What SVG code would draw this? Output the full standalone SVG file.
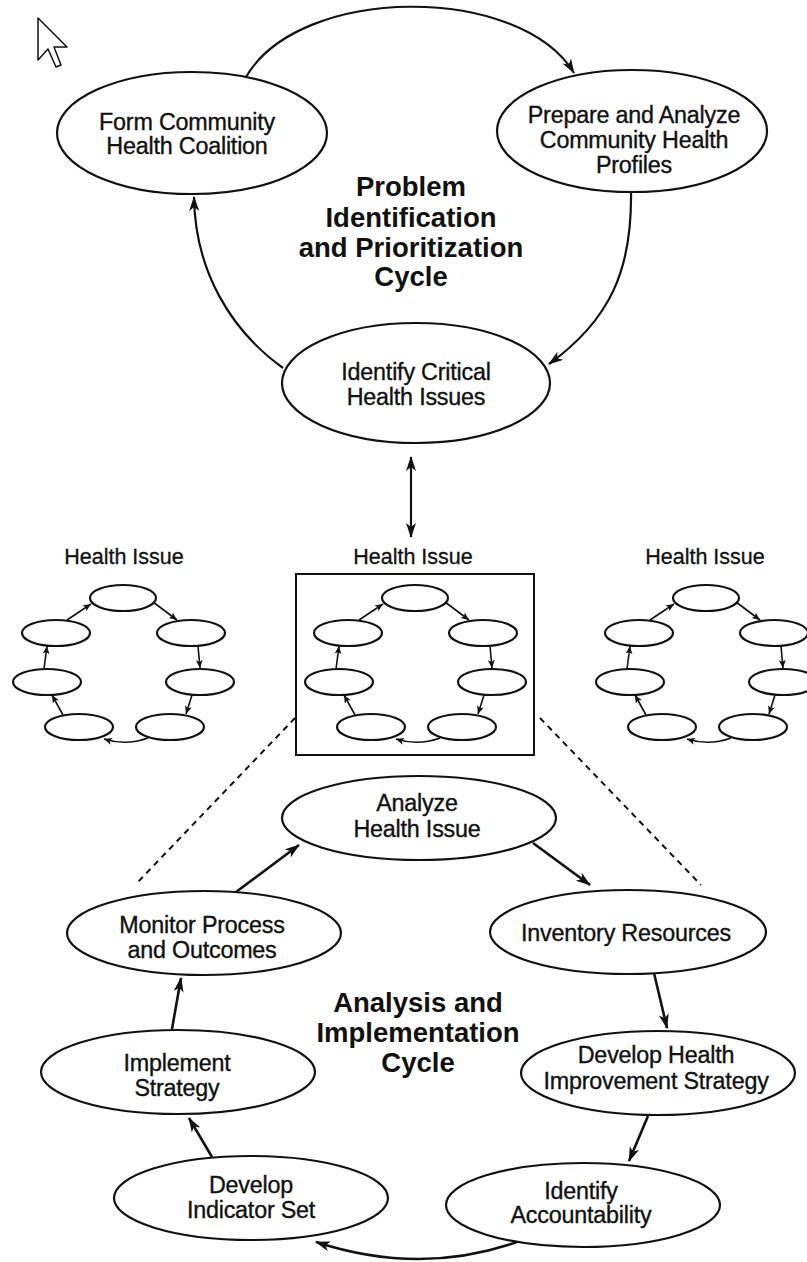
<svg xmlns="http://www.w3.org/2000/svg" width="807" height="1262" viewBox="0 0 807 1262">
<style>
.n{fill:#fff;stroke:#111;stroke-width:2.2}
.m{fill:#fff;stroke:#111;stroke-width:2.2}
.t{font-family:"Liberation Sans",Arial,sans-serif;font-size:23.3px;fill:#111;stroke:#111;stroke-width:0.35;text-anchor:middle;letter-spacing:-0.2px}
.h{font-family:"Liberation Sans",Arial,sans-serif;font-size:27.5px;font-weight:bold;fill:#111;text-anchor:middle}
.hi{font-family:"Liberation Sans",Arial,sans-serif;font-size:21.5px;fill:#111;stroke:#111;stroke-width:0.3;text-anchor:middle}
.c{fill:none;stroke:#111;stroke-width:2.2}
.cb{fill:none;stroke:#111;stroke-width:2.6}
.cm{fill:none;stroke:#111;stroke-width:1.6}
</style>
<defs>
<marker id="a" markerUnits="userSpaceOnUse" markerWidth="16" markerHeight="12" refX="14" refY="5" orient="auto-start-reverse"><path d="M0,0 L15,5 L0,10 L4,5 z" fill="#111"/></marker>
<marker id="s" markerUnits="userSpaceOnUse" markerWidth="9" markerHeight="8" refX="8" refY="3.5" orient="auto"><path d="M0,0 L8,3.5 L0,7 L2,3.5 z" fill="#111"/></marker>
</defs>
<rect width="807" height="1262" fill="#fff"/>
<path d="M38,18 L38,60 L48,49 L56,67 L61,65 L54,47 L67,47 Z" fill="#fff" stroke="#111" stroke-width="1.5" stroke-linejoin="round"/>

<g id="connectors">
<path class="c" d="M246,77 C300,-16 520,-16 574,73" marker-end="url(#a)"/>
<path class="c" d="M631,193 C632,270 610,320 549,364" marker-end="url(#a)"/>
<path class="c" d="M283,368 C230,330 195,270 194,197" marker-end="url(#a)"/>
<path class="c" d="M411,457 L411,537" marker-start="url(#a)" marker-end="url(#a)"/>
<path d="M295,718 L136,884 M540,718 L701,885" fill="none" stroke="#111" stroke-width="2" stroke-dasharray="6,5"/>
<path class="cb" d="M533,843 L590,885" marker-end="url(#a)"/>
<path class="cb" d="M654,973 L667,1028" marker-end="url(#a)"/>
<path class="cb" d="M648,1116 L629,1161" marker-end="url(#a)"/>
<path class="cb" d="M517,1242 Q420,1276 316,1242" marker-end="url(#a)"/>
<path class="cb" d="M212,1157 L189,1118" marker-end="url(#a)"/>
<path class="cb" d="M172,1029 L181,978" marker-end="url(#a)"/>
<path class="cb" d="M236,892 L299,845" marker-end="url(#a)"/>
</g>

<g id="form-coalition"><ellipse class="n" cx="192" cy="133" rx="135" ry="61"/><text class="t" x="187" y="130">Form Community</text><text class="t" x="187" y="154">Health Coalition</text></g>
<g id="prepare-profiles"><ellipse class="n" cx="632" cy="131" rx="135" ry="61"/><text class="t" x="634" y="123">Prepare and Analyze</text><text class="t" x="634" y="148">Community Health</text><text class="t" x="634" y="173">Profiles</text></g>
<g id="identify-issues"><ellipse class="n" cx="416" cy="383" rx="134" ry="60"/><text class="t" x="416" y="380">Identify Critical</text><text class="t" x="416" y="405">Health Issues</text></g>
<g id="title-top"><text class="h" x="411" y="196">Problem</text><text class="h" x="411" y="227">Identification</text><text class="h" x="411" y="257">and Prioritization</text><text class="h" x="411" y="286">Cycle</text></g>

<g id="issue-box"><rect x="296" y="574" width="238" height="181" fill="none" stroke="#111" stroke-width="2"/></g>
<text class="hi" x="124" y="564">Health Issue</text>
<text class="hi" x="413" y="564">Health Issue</text>
<text class="hi" x="705" y="564">Health Issue</text>

<g id="mini-center">
<ellipse class="m" cx="415" cy="598" rx="33" ry="13"/>
<ellipse class="m" cx="348" cy="633" rx="34" ry="13"/>
<ellipse class="m" cx="483" cy="633" rx="34" ry="13"/>
<ellipse class="m" cx="339" cy="682" rx="34" ry="13"/>
<ellipse class="m" cx="492" cy="682" rx="34" ry="13"/>
<ellipse class="m" cx="371" cy="727" rx="34" ry="13"/>
<ellipse class="m" cx="462" cy="727" rx="34" ry="13"/>
<g class="mini-links">
<path class="cm" d="M359,620 L383,604" marker-end="url(#s)"/>
<path class="cm" d="M445,602 L469,620" marker-end="url(#s)"/>
<path class="cm" d="M490,646 L492,668" marker-end="url(#s)"/>
<path class="cm" d="M484,695 L478,714" marker-end="url(#s)"/>
<path class="cm" d="M440,738 Q418,746 396,739" marker-end="url(#s)"/>
<path class="cm" d="M355,715 L344,695" marker-end="url(#s)"/>
<path class="cm" d="M336,669 L339,646" marker-end="url(#s)"/>
</g>
</g>
<use id="mini-left" href="#mini-center" transform="translate(-292,0)"/>
<use id="mini-right" href="#mini-center" transform="translate(291,0)"/>

<g id="analyze"><ellipse class="n" cx="419" cy="818" rx="137" ry="42"/><text class="t" x="417" y="811">Analyze</text><text class="t" x="417" y="837">Health Issue</text></g>
<g id="monitor"><ellipse class="n" cx="204" cy="933" rx="137" ry="42"/><text class="t" x="202" y="933">Monitor Process</text><text class="t" x="202" y="958">and Outcomes</text></g>
<g id="inventory"><ellipse class="n" cx="628" cy="932" rx="138" ry="42"/><text class="t" x="626" y="941">Inventory Resources</text></g>
<g id="implement"><ellipse class="n" cx="178" cy="1072" rx="137" ry="42"/><text class="t" x="177" y="1071">Implement</text><text class="t" x="177" y="1096">Strategy</text></g>
<g id="develop-strategy"><ellipse class="n" cx="658" cy="1073" rx="137" ry="42"/><text class="t" x="656" y="1063">Develop Health</text><text class="t" x="656" y="1089">Improvement Strategy</text></g>
<g id="develop-indicators"><ellipse class="n" cx="251" cy="1198" rx="137" ry="42"/><text class="t" x="251" y="1193">Develop</text><text class="t" x="251" y="1218">Indicator Set</text></g>
<g id="accountability"><ellipse class="n" cx="583" cy="1205" rx="137" ry="42"/><text class="t" x="581" y="1199">Identify</text><text class="t" x="581" y="1223">Accountability</text></g>
<g id="title-bottom"><text class="h" x="418" y="1012">Analysis and</text><text class="h" x="418" y="1042">Implementation</text><text class="h" x="418" y="1072">Cycle</text></g>
</svg>
